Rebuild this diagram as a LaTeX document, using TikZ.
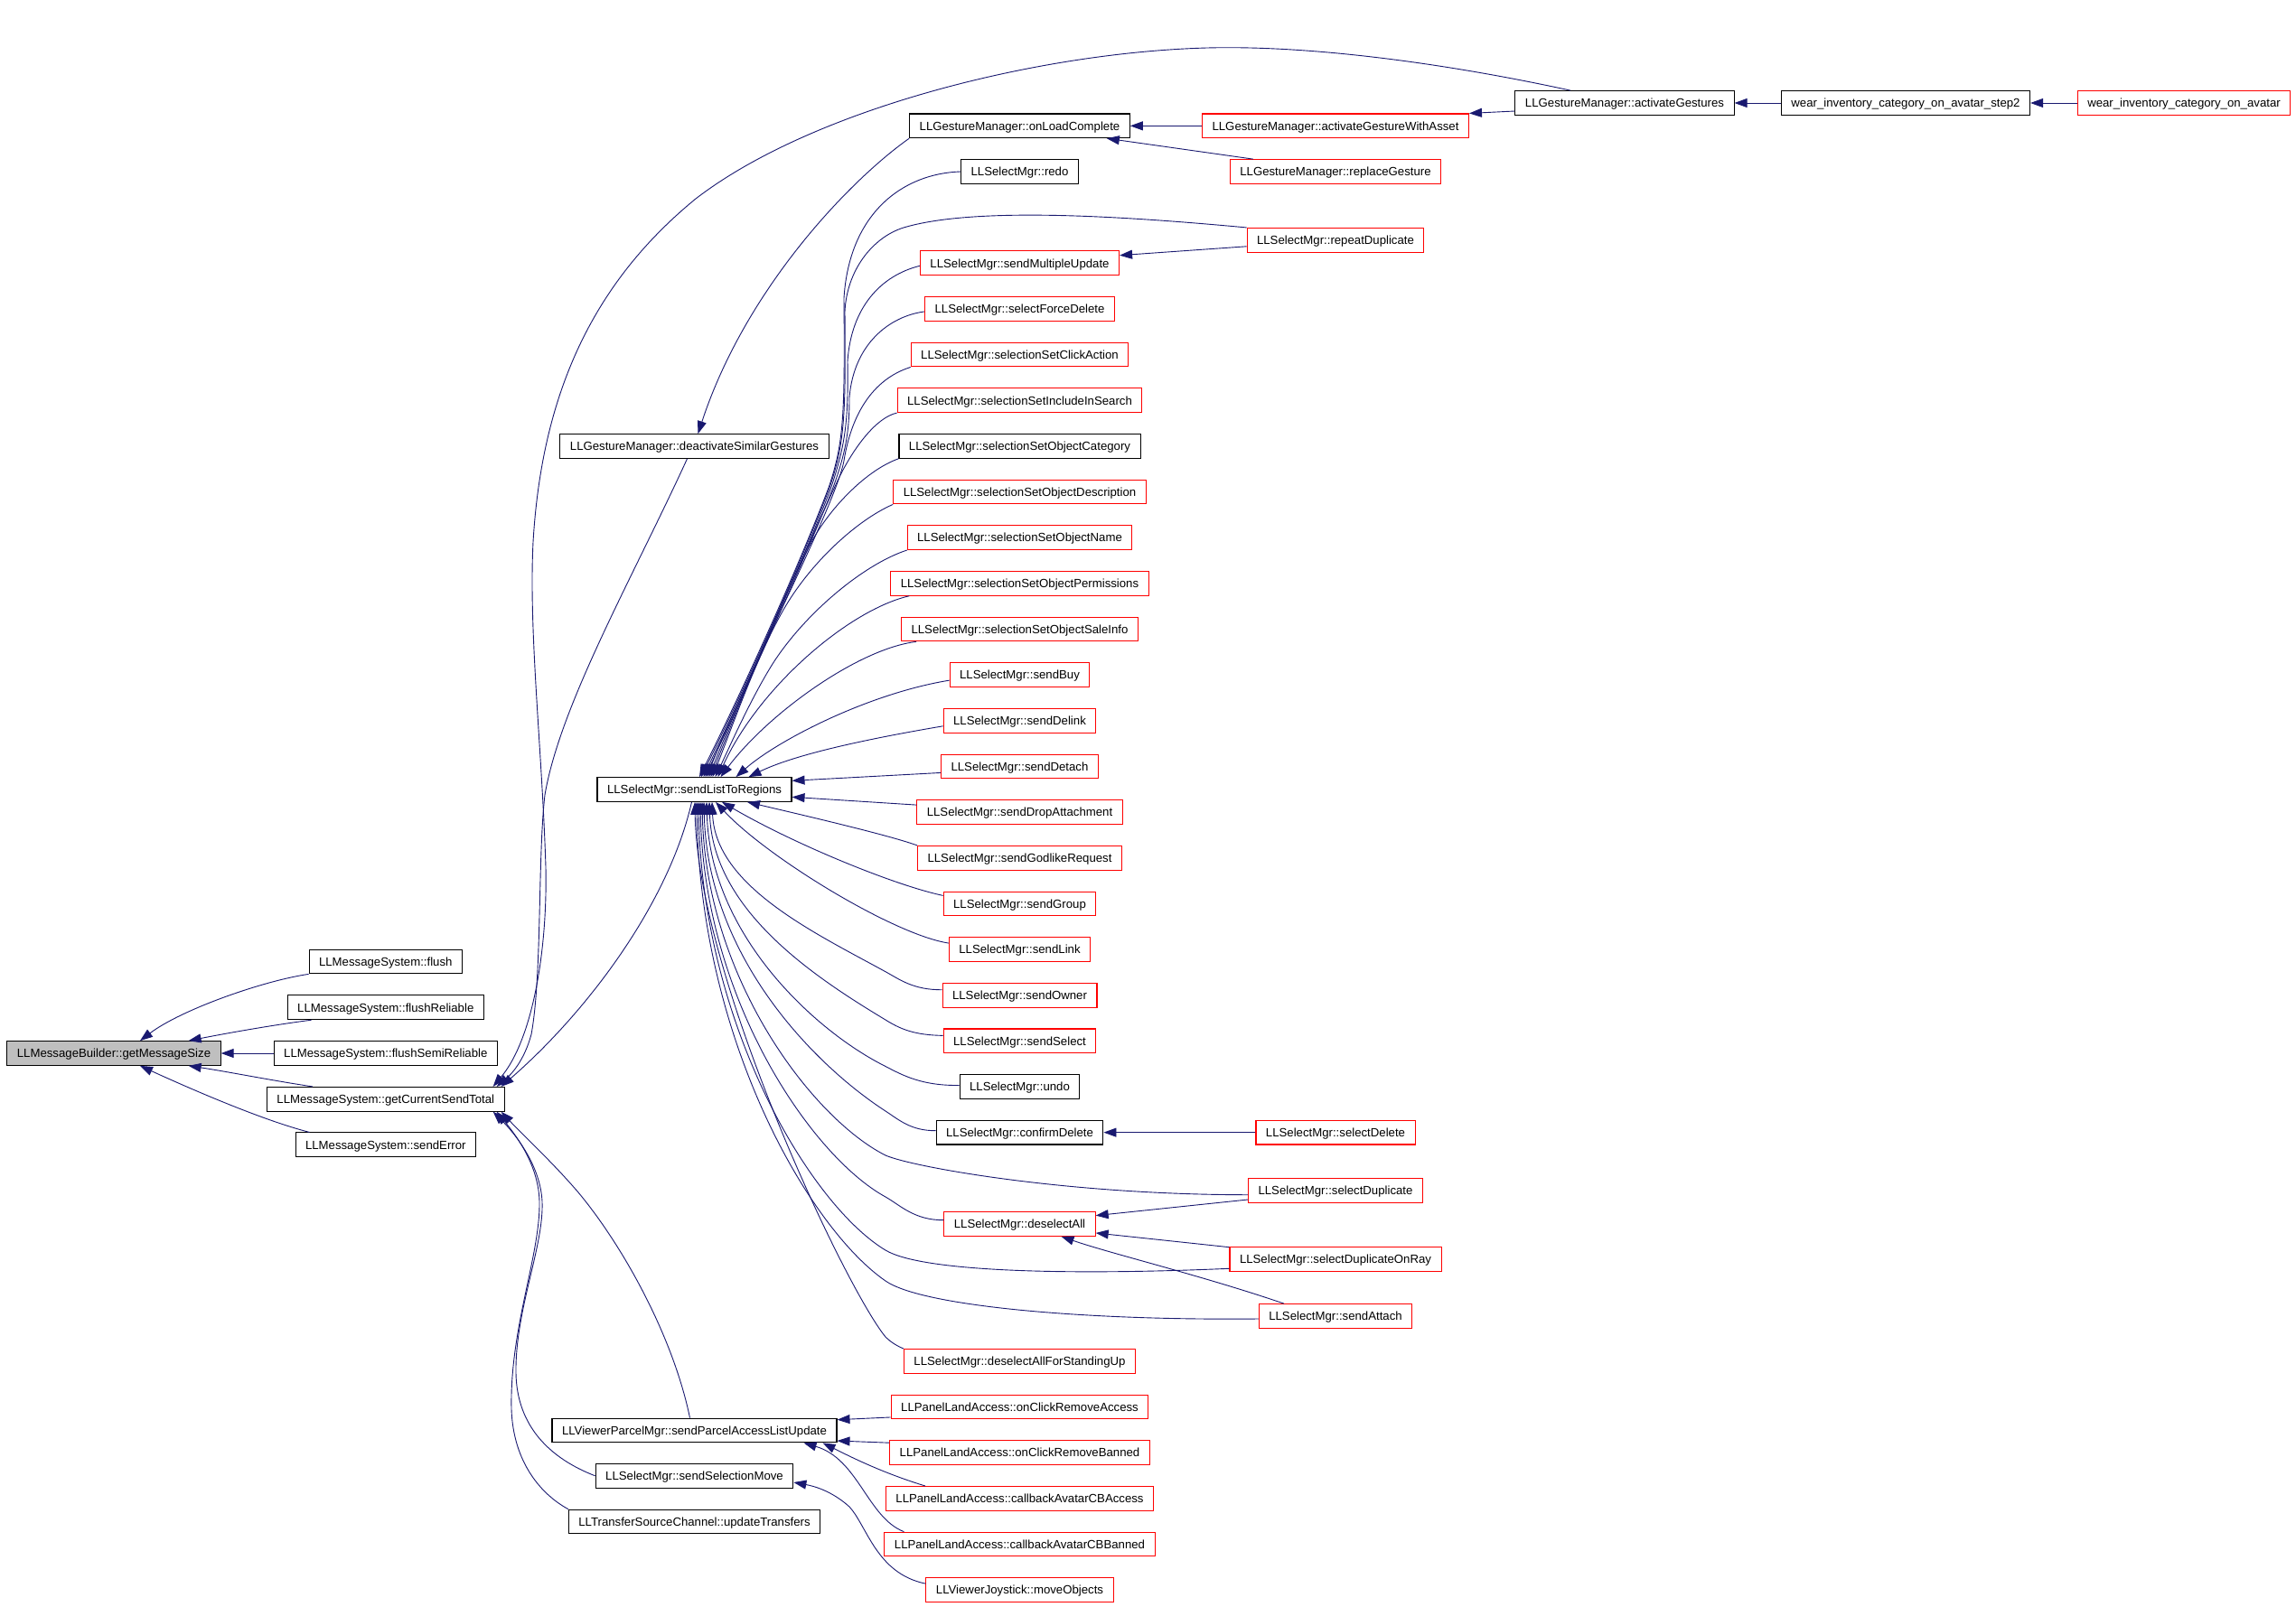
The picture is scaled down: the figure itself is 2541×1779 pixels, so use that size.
\documentclass[tikz,border=0pt]{standalone}
\usepackage{fontspec}
\setmainfont{Liberation Sans}
\usetikzlibrary{arrows.meta}
\definecolor{edgeblue}{RGB}{25,25,112}
\definecolor{nodegray}{RGB}{191,191,191}
\tikzset{
  fn/.style={draw=black, line width=1.05pt, fill=white, inner xsep=11pt, inner ysep=0pt,
    minimum height=26.7pt, text height=9.5pt, text depth=0pt,
    font=\fontsize{13.2}{15}\selectfont},
  rfn/.style={fn, draw=red},
  gfn/.style={fn, fill=nodegray},
  edge/.style={draw=edgeblue, line width=0.9pt, -{Triangle[length=14pt,width=10pt]}, fill=none}
}
\begin{document}
\begin{tikzpicture}[x=1pt,y=-1pt]
\useasboundingbox[fill=white] (0,0) rectangle (2541,1779);
% column 0 and 1
\node[gfn] (gms) at (126,1166) {LLMessageBuilder::getMessageSize};
\node[fn] (flush) at (426.8,1064.5) {LLMessageSystem::flush};
\node[fn] (flushRel) at (426.8,1115.3) {LLMessageSystem::flushReliable};
\node[fn] (flushSemi) at (426.8,1166) {LLMessageSystem::flushSemiReliable};
\node[fn] (gcst) at (426.8,1216.8) {LLMessageSystem::getCurrentSendTotal};
\node[fn] (sendErr) at (426.8,1267.3) {LLMessageSystem::sendError};
% column 2
\node[fn] (dsg) at (768.5,494) {LLGestureManager::deactivateSimilarGestures};
\node[fn] (sltr) at (768.5,874) {LLSelectMgr::sendListToRegions};
\node[fn] (spalu) at (768.5,1583.5) {LLViewerParcelMgr::sendParcelAccessListUpdate};
\node[fn] (ssm) at (768.5,1633.8) {LLSelectMgr::sendSelectionMove};
\node[fn] (utr) at (768.5,1684.5) {LLTransferSourceChannel::updateTransfers};
% column 3
\node[fn]  (olc)     at (1128.5,139.35) {LLGestureManager::onLoadComplete};
\node[fn]  (redo)    at (1128.5,190.0)  {LLSelectMgr::redo};
\node[rfn] (smu)     at (1128.5,291.3)  {LLSelectMgr::sendMultipleUpdate};
\node[rfn] (sfd)     at (1128.5,341.95) {LLSelectMgr::selectForceDelete};
\node[rfn] (sca)     at (1128.5,392.6)  {LLSelectMgr::selectionSetClickAction};
\node[rfn] (sis)     at (1128.5,443.25) {LLSelectMgr::selectionSetIncludeInSearch};
\node[fn]  (soc)     at (1128.5,493.9)  {LLSelectMgr::selectionSetObjectCategory};
\node[rfn] (sod)     at (1128.5,544.55) {LLSelectMgr::selectionSetObjectDescription};
\node[rfn] (son)     at (1128.5,595.2)  {LLSelectMgr::selectionSetObjectName};
\node[rfn] (sop)     at (1128.5,645.85) {LLSelectMgr::selectionSetObjectPermissions};
\node[rfn] (sos)     at (1128.5,696.5)  {LLSelectMgr::selectionSetObjectSaleInfo};
\node[rfn] (sbuy)    at (1128.5,747.15) {LLSelectMgr::sendBuy};
\node[rfn] (sdelink) at (1128.5,797.8)  {LLSelectMgr::sendDelink};
\node[rfn] (sdetach) at (1128.5,848.45) {LLSelectMgr::sendDetach};
\node[rfn] (sdrop)   at (1128.5,899.1)  {LLSelectMgr::sendDropAttachment};
\node[rfn] (sgod)    at (1128.5,949.75) {LLSelectMgr::sendGodlikeRequest};
\node[rfn] (sgroup)  at (1128.5,1000.4) {LLSelectMgr::sendGroup};
\node[rfn] (slink)   at (1128.5,1051.05){LLSelectMgr::sendLink};
\node[rfn] (sowner)  at (1128.5,1101.7) {LLSelectMgr::sendOwner};
\node[rfn] (sselect) at (1128.5,1152.35){LLSelectMgr::sendSelect};
\node[fn]  (undo)    at (1128.5,1203.0) {LLSelectMgr::undo};
\node[fn]  (cdel)    at (1128.5,1253.65){LLSelectMgr::confirmDelete};
\node[rfn] (dall)    at (1128.5,1354.95){LLSelectMgr::deselectAll};
\node[rfn] (dallsu)  at (1128.5,1506.9) {LLSelectMgr::deselectAllForStandingUp};
\node[rfn] (ocra)    at (1128.5,1557.55){LLPanelLandAccess::onClickRemoveAccess};
\node[rfn] (ocrb)    at (1128.5,1608.2) {LLPanelLandAccess::onClickRemoveBanned};
\node[rfn] (cba)     at (1128.5,1658.85){LLPanelLandAccess::callbackAvatarCBAccess};
\node[rfn] (cbb)     at (1128.5,1709.5) {LLPanelLandAccess::callbackAvatarCBBanned};
\node[rfn] (mobj)    at (1128.5,1760.15){LLViewerJoystick::moveObjects};
% column 4
\node[rfn] (agwa)    at (1478,139.35) {LLGestureManager::activateGestureWithAsset};
\node[rfn] (rg)      at (1478,190.0)  {LLGestureManager::replaceGesture};
\node[rfn] (rdup)    at (1478,265.8)  {LLSelectMgr::repeatDuplicate};
\node[rfn] (sdel)    at (1478,1253.65){LLSelectMgr::selectDelete};
\node[rfn] (sdup)    at (1478,1318)   {LLSelectMgr::selectDuplicate};
\node[rfn] (sdupr)   at (1478,1394)   {LLSelectMgr::selectDuplicateOnRay};
\node[rfn] (sattach) at (1478,1457)   {LLSelectMgr::sendAttach};
% columns 5-7
\node[fn]  (ag)    at (1798,114) {LLGestureManager::activateGestures};
\node[fn]  (step2) at (2109,114) {wear\_inventory\_category\_on\_avatar\_step2};
\node[rfn] (wear)  at (2417,114) {wear\_inventory\_category\_on\_avatar};

% ---- edges into getMessageSize
\draw[edge] (flush.south west) .. controls (290,1086) and (200,1118) .. ([xshift=29pt]gms.north);
\draw[edge] ([xshift=27pt]flushRel.south west) .. controls (300,1135) and (250,1144) .. ([xshift=-36pt]gms.north east);
\draw[edge] (flushSemi.west) -- (gms.east);
\draw[edge] ([xshift=51pt]gcst.north west) .. controls (300,1196) and (250,1186) .. ([xshift=-36pt]gms.south east);
\draw[edge] ([xshift=16pt]sendErr.north west) .. controls (290,1240) and (210,1205) .. ([xshift=29pt]gms.south);

% ---- edges into getCurrentSendTotal
\draw[edge] ([xshift=-60pt]ag.north) .. controls (1600,70) and (1450,50) .. (1336,53)
  .. controls (1150,58) and (900,120) .. (770,220)
  .. controls (660,310) and (600,430) .. (590,600)
  .. controls (585,700) and (600,830) .. (604,960)
  .. controls (606,1050) and (590,1150) .. ([xshift=-13pt]gcst.north east);
\draw[edge] ([xshift=-8pt]dsg.south) .. controls (700,640) and (620,780) .. (603,880)
  .. controls (595,950) and (600,1080) .. (588,1145)
  .. controls (580,1175) and (565,1190) .. ([xshift=-9pt]gcst.north east);
\draw[edge] ([xshift=-3pt]sltr.south) .. controls (740,1000) and (650,1120) .. ([xshift=-4pt]gcst.north east);
\draw[edge] ([xshift=-5pt]spalu.north) .. controls (745,1480) and (690,1380) .. (640,1320)
  .. controls (610,1285) and (580,1258) .. ([xshift=-4pt]gcst.south east);
\draw[edge] (ssm.west) .. controls (610,1615) and (572,1580) .. (571,1520)
  .. controls (570,1450) and (602,1380) .. (600,1330)
  .. controls (598,1290) and (570,1255) .. ([xshift=-13pt]gcst.south east);
\draw[edge] (utr.north west) .. controls (600,1655) and (568,1620) .. (566,1560)
  .. controls (564,1470) and (598,1390) .. (597,1330)
  .. controls (596,1290) and (572,1258) .. ([xshift=-9pt]gcst.south east);

% ---- top chain
\draw[edge] (wear.west) -- (step2.east);
\draw[edge] (step2.west) -- (ag.east);
\draw[edge] ([yshift=-9pt]ag.west) -- (agwa.north east);
\draw[edge] (agwa.west) -- (olc.east);
\draw[edge] ([xshift=26pt]rg.north west) -- ([xshift=-26pt]olc.south east);
\draw[edge] (olc.south west) .. controls (940,200) and (825,320) .. ([xshift=4pt]dsg.north);

% ---- repeatDuplicate
\draw[edge] ([yshift=-7pt]rdup.west) -- ([yshift=8.6pt]smu.east);
\draw[edge] (rdup.north west) .. controls (1250,240) and (1080,228) .. (1000,252)
  .. controls (965,263) and (937,300) .. (935,345)
  .. controls (936,460) and (935,490) .. (918,540)
  .. controls (880,640) and (815,780) .. ([xshift=7.5pt]sltr.north);

% ---- upper bundle into sendListToRegions
\draw[edge] (redo.west) .. controls (1000,192) and (940,235) .. (934,330)
  .. controls (935,460) and (934,490) .. (917,540)
  .. controls (879,640) and (814,780) .. ([xshift=5.5pt]sltr.north);
\draw[edge] ([yshift=-3pt]smu.west) .. controls (975,305) and (942,340) .. (938,400)
  .. controls (939,465) and (936,492) .. (919,542)
  .. controls (881,640) and (816,780) .. ([xshift=10pt]sltr.north);
\draw[edge] ([yshift=-3pt]sfd.west) .. controls (985,350) and (945,380) .. (940,440)
  .. controls (940,475) and (937,500) .. (920,545)
  .. controls (882,640) and (817,780) .. ([xshift=12pt]sltr.north);
\draw[edge] (sca.south west) .. controls (965,420) and (942,460) .. (934,510)
  .. controls (925,560) and (820,760) .. ([xshift=14pt]sltr.north);
\draw[edge] (sis.south west) .. controls (970,462) and (945,495) .. (928,530)
  .. controls (900,590) and (820,770) .. ([xshift=16pt]sltr.north);
\draw[edge] (soc.south west) .. controls (960,520) and (920,560) .. (898,600)
  .. controls (860,675) and (818,780) .. ([xshift=18pt]sltr.north);
\draw[edge] (sod.south west) .. controls (950,575) and (900,620) .. (870,670)
  .. controls (840,720) and (812,800) .. ([xshift=20pt]sltr.north);
\draw[edge] (son.south west) .. controls (955,625) and (890,680) .. (855,735)
  .. controls (830,775) and (806,830) .. ([xshift=23pt]sltr.north);
\draw[edge] ([xshift=21pt]sop.south west) .. controls (940,675) and (840,760) .. ([xshift=26pt]sltr.north);
\draw[edge] ([xshift=17pt]sos.south west) .. controls (950,718) and (850,790) .. ([xshift=29pt]sltr.north);
\draw[edge] ([yshift=-6pt]sbuy.west) .. controls (960,768) and (860,820) .. ([xshift=46pt]sltr.north);
\draw[edge] ([yshift=-6pt]sdelink.west) .. controls (960,818) and (880,835) .. ([xshift=60pt]sltr.north);
\draw[edge] ([yshift=-7pt]sdetach.west) -- ([yshift=9.7pt]sltr.east);
\draw[edge] ([yshift=8pt]sdrop.west) -- ([yshift=-8.3pt]sltr.east);

% ---- lower fan into sendListToRegions
\draw[edge] (sgod.north west) .. controls (985,925) and (900,905) .. ([xshift=58.5pt]sltr.south);
\draw[edge] ([yshift=9pt]sgroup.west) .. controls (990,980) and (880,935) .. ([xshift=30.5pt]sltr.south);
\draw[edge] ([yshift=7pt]slink.west) .. controls (990,1035) and (850,950) .. ([xshift=23.5pt]sltr.south);
\draw[edge] ([yshift=6pt]sowner.west) .. controls (1011,1096) and (995.5,1084.2) .. (980,1075.7)
  .. controls (903.2,1033.5) and (792,981.4) .. ([xshift=19.5pt]sltr.south);
\draw[edge] ([yshift=6pt]sselect.west) .. controls (1012,1146) and (996,1139) .. (980,1129)
  .. controls (902,1082) and (789,1008) .. ([xshift=16.5pt]sltr.south);
\draw[edge] ([yshift=1.5pt]undo.west) .. controls (1021,1202) and (1000,1191) .. (980,1180.5)
  .. controls (901,1141) and (786,1034) .. ([xshift=13.5pt]sltr.south);
\draw[edge] ([yshift=2pt]cdel.west) .. controls (1008,1252) and (994,1239) .. (980,1230)
  .. controls (900,1178) and (783,1058) .. ([xshift=10.5pt]sltr.south);
\draw[edge] ([yshift=-4.7pt]sdup.west) .. controls (1180,1322.7) and (1010,1292) .. (980,1279)
  .. controls (899,1238) and (781,1083) .. ([xshift=8.5pt]sltr.south);
\draw[edge] ([yshift=4.3pt]dall.west) .. controls (1012,1351) and (996,1334) .. (980,1325)
  .. controls (898,1280) and (779,1106) .. ([xshift=6.5pt]sltr.south);
\draw[edge] ([yshift=-10.3pt]sdupr.west) .. controls (1180,1412) and (1020,1408) .. (980,1384)
  .. controls (897,1334) and (777,1135) .. ([xshift=4.5pt]sltr.south);
\draw[edge] ([yshift=-3pt]sattach.west) .. controls (1200,1462) and (1020,1446) .. (980,1418)
  .. controls (896,1360) and (775,1152) .. ([xshift=2.5pt]sltr.south);
\draw[edge] (dallsu.north west) .. controls (995,1491) and (987,1487) .. (980,1480)
  .. controls (935,1425) and (772,1080) .. ([xshift=0.5pt]sltr.south);

% ---- column 4 into column 3
\draw[edge] (sdel.west) -- (cdel.east);
\draw[edge] ([yshift=-10pt]sdup.west) -- ([yshift=9.3pt]dall.east);
\draw[edge] ([yshift=13.3pt]sdupr.west) -- ([yshift=-10pt]dall.east);
\draw[edge] ([xshift=-57pt]sattach.north) .. controls (1330,1412) and (1230,1388) .. ([xshift=46pt]dall.south);

% ---- into sendParcelAccessListUpdate / sendSelectionMove
\draw[edge] ([yshift=-11.4pt]ocra.west) -- ([yshift=11.8pt]spalu.east);
\draw[edge] ([yshift=11pt]ocrb.west) -- ([yshift=-11.5pt]spalu.east);
\draw[edge] ([xshift=44pt]cba.north west) .. controls (975,1630) and (940,1612) .. ([xshift=-16pt]spalu.south east);
\draw[edge] ([xshift=22pt]cbb.north west) .. controls (960,1680) and (950,1615) .. ([xshift=-37pt]spalu.south east);
\draw[edge] ([yshift=7pt]mobj.west) .. controls (970,1742) and (960,1690) .. (940,1668)
  .. controls (920,1650) and (900,1645) .. ([yshift=-7.2pt]ssm.east);
\end{tikzpicture}
\end{document}
